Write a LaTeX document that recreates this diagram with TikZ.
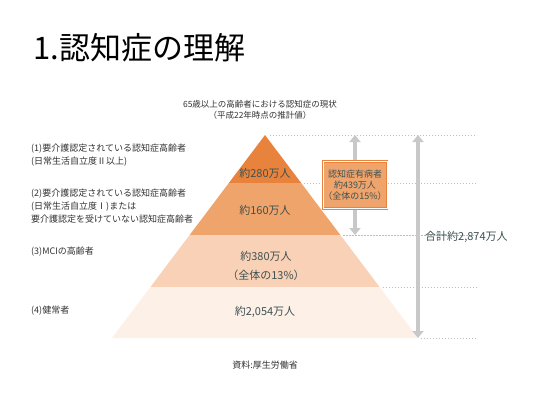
\documentclass[tikz,border=0pt]{standalone}
\usepackage{fontspec}
\setmainfont{Noto Sans CJK JP}
\usetikzlibrary{arrows.meta,positioning}
\definecolor{LayerTop}{HTML}{E8833D}
\definecolor{LayerSecond}{HTML}{EFA46C}
\definecolor{LayerThird}{HTML}{F9D1B6}
\definecolor{LayerBase}{HTML}{FDF0E7}
\definecolor{FigureInk}{HTML}{3E5151}
\definecolor{LabelInk}{HTML}{333333}
\definecolor{GuideGray}{HTML}{BDBDBD}
\definecolor{ArrowGray}{HTML}{C8C8C8}
\newcommand{\FigureSize}[1]{\fontsize{#1}{#1}\selectfont}

\begin{document}
\begin{tikzpicture}[
  x=1pt,y=-1pt,
  text=LabelInk,
  group/.style={anchor=west,font=\FigureSize{9},align=left,inner sep=0pt},
  count/.style={font=\FigureSize{11},text=FigureInk,align=center,inner sep=0pt},
  guide/.style={draw=GuideGray,line width=0.8pt,dash pattern=on 1.2pt off 1.8pt},
  span/.style={draw=ArrowGray,line width=4pt,
               {Triangle[width=11pt,length=7pt]}-{Triangle[width=11pt,length=7pt]}},
  sharebox/.style={draw=LayerTop,double=white,double distance=0.7pt,line width=0.9pt,
                   fill=LayerSecond,minimum width=64pt,minimum height=47pt,
                   font=\FigureSize{9},text=FigureInk,align=center,inner sep=0pt},
]
  \useasboundingbox[fill=white] (0,0) rectangle (533,400);

  \node[anchor=west,font=\FigureSize{31},text=black,inner sep=0pt] (title) at (33,48)
    {1.認知症の理解};
  \node[font=\FigureSize{8.5},align=center,inner sep=0pt] (survey) at (260,110)
    {65歳以上の高齢者における認知症の現状\\[2pt]（平成22年時点の推計値）};

  \foreach \ya/\yb/\col in {135/183/LayerTop,183/235/LayerSecond,
                            235/287/LayerThird,287/338/LayerBase}
    \fill[\col] ({265-0.7537*(\ya-135)},\ya) -- ({265+0.7537*(\ya-135)},\ya)
      -- ({265+0.7537*(\yb-135)},\yb) -- ({265-0.7537*(\yb-135)},\yb) -- cycle;

  \draw[guide] (270,135) -- (477,135);
  \foreach \y in {183,235,287,338}
    \draw[guide] ({268+0.7537*(\y-135)},\y) -- (477,\y);

  \node[group] (groupOne) at (31,155)
    {(1)要介護認定されている認知症高齢者\\[3pt](日常生活自立度Ⅱ以上)};
  \node[group] (groupTwo) at (31,206)
    {(2)要介護認定されている認知症高齢者\\[3pt](日常生活自立度Ⅰ)または\\[3pt]要介護認定を受けていない認知症高齢者};
  \node[group] (groupThree) at (31,252) {(3)MCIの高齢者};
  \node[group] (groupFour) at (31,311) {(4)健常者};

  \node[count] (countOne) at (265,173) {約280万人};
  \node[count] (countTwo) at (265,210) {約160万人};
  \node[count] (countThree) at (266,266) {約380万人\\[8pt]（全体の13\%）};
  \node[count] (countFour) at (265,312) {約2,054万人};

  \coordinate (shareTop) at (355,135);
  \coordinate (shareBottom) at (355,235);
  \coordinate (totalTop) at (418,135);
  \coordinate (totalBottom) at (418,338);
  \draw[span] (shareTop) -- (shareBottom);
  \draw[span] (totalTop) -- (totalBottom);

  \node[sharebox] (share) at (355,185)
    {認知症有病者\\[2pt]約439万人\\[2pt]（全体の15\%）};
  \node[count,anchor=west] (total) at (425,237) {合計約2,874万人};

  \node[font=\FigureSize{9},inner sep=0pt] (source) at (265,365) {資料:厚生労働省};
\end{tikzpicture}
\end{document}
